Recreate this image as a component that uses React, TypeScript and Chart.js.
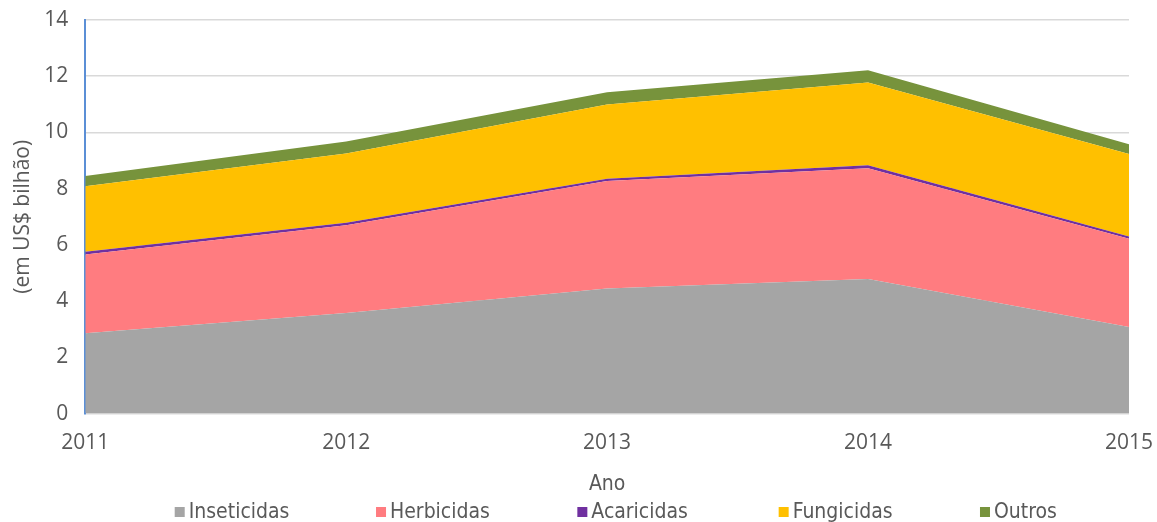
import React, { useEffect, useRef } from "react";
import { Chart, registerables } from "chart.js";

Chart.register(...registerables);

const years = ["2011", "2012", "2013", "2014", "2015"];
const seriesNames = ["Inseticidas", "Herbicidas", "Acaricidas", "Fungicidas", "Outros"];
const seriesColors = ["#A5A5A5", "#FF7C80", "#7030A0", "#FFC000", "#77933C"];
const inseticidas = [2.86, 3.58, 4.45, 4.79, 3.08];
const herbicidas = [2.8, 3.12, 3.82, 3.94, 3.14];
const acaricidas = [0.1, 0.09, 0.08, 0.1, 0.08];
const fungicidas = [2.33, 2.46, 2.64, 2.95, 2.93];
const outros = [0.36, 0.43, 0.44, 0.43, 0.35];

const TICK_FONT = "'Open Sans', sans-serif";
const LEG_FONT = "'DejaVu Sans Condensed', sans-serif";
const TEXT = "#595959";

const bottomLegend = {
  id: "bottomLegend",
  afterDraw(chart: any) {
    const ctx = chart.ctx;
    const w = chart.width;
    const start = w * 0.151;
    const step = w * 0.174;
    const y = chart.height - 10;
    ctx.save();
    ctx.font = `21px ${LEG_FONT}`;
    ctx.textBaseline = "middle";
    ctx.textAlign = "left";
    chart.data.datasets.forEach((ds: any, i: number) => {
      const x = start + i * step;
      ctx.fillStyle = ds.backgroundColor;
      ctx.fillRect(x, y - 5, 10, 10);
      ctx.fillStyle = TEXT;
      ctx.fillText(ds.label, x + 14, y + 1);
    });
    ctx.restore();
  },
};

export default function App() {
  const ref = useRef<HTMLCanvasElement | null>(null);
  useEffect(() => {
    document.body.style.margin = "0";
    const ctx = ref.current!;
    const values = [inseticidas, herbicidas, acaricidas, fungicidas, outros];
    const chart = new Chart(ctx, {
      type: "line",
      data: {
        labels: years,
        datasets: seriesNames.map((name, i) => ({
          label: name,
          data: values[i],
          backgroundColor: seriesColors[i],
          borderColor: seriesColors[i],
          borderWidth: 0,
          pointRadius: 0,
          fill: i === 0 ? "origin" : "-1",
          tension: 0,
        })) as any,
      },
      plugins: [bottomLegend],
      options: {
        animation: false,
        responsive: false,
        layout: { padding: { top: 0, right: 0, left: 10, bottom: 25 } },
        plugins: {
          legend: { display: false },
          tooltip: { enabled: false },
        },
        scales: {
          x: {
            offset: false,
            grid: { display: false, drawTicks: false },
            border: { display: false },
            ticks: { font: { family: TICK_FONT, size: 21 }, color: TEXT, padding: 17, maxRotation: 0 },
            title: {
              display: true,
              text: "Ano",
              font: { family: LEG_FONT, size: 21 },
              color: TEXT,
              padding: { top: -1, bottom: 0 },
            },
            afterFit: (scale: any) => {
              scale.paddingRight = 28;
              scale.paddingLeft = 0;
            },
          },
          y: {
            stacked: true,
            min: 0,
            max: 14,
            ticks: { stepSize: 2, font: { family: TICK_FONT, size: 21 }, color: TEXT, padding: 17 },
            grid: { color: "#D9D9D9", lineWidth: 1.5, drawTicks: false },
            border: { display: true, color: "#5B8FD6", width: 2 },
            title: {
              display: true,
              text: "(em US$ bilhão)",
              font: { family: TICK_FONT, size: 21 },
              color: TEXT,
              padding: { top: 0, bottom: -8 },
            },
            afterFit: (scale: any) => {
              scale.paddingTop = 20;
              scale.paddingBottom = 0;
            },
          },
        },
      },
    });
    return () => chart.destroy();
  }, []);
  return <canvas ref={ref} width={1157} height={522} style={{ display: "block" }} />;
}
